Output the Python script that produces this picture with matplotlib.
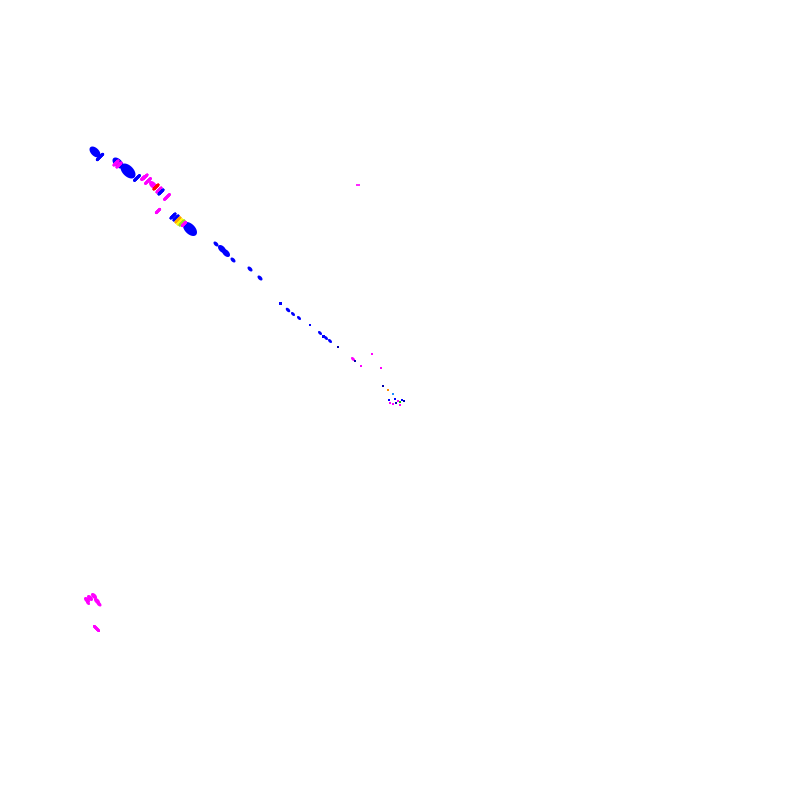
import numpy as np
import matplotlib
matplotlib.use("Agg")
import matplotlib.pyplot as plt
from matplotlib.path import Path

B, M, N = '#0000ff', '#ff00ff', '#0000aa'

# Blobs (elongated along the diagonal): x, y, size(px), colour
blob_x = [95, 118, 128, 190, 216, 222, 226, 233, 250, 260, 153, 288, 293, 299, 320, 326, 330,
          87, 90, 94, 97, 99, 88, 353]
blob_y = [152, 163, 171, 229, 244, 249, 253, 260, 269, 278, 185, 310, 314, 318, 333, 338, 341,
          600, 598, 596, 601, 604, 603, 359]
blob_s = [11, 11, 15, 14, 5, 8, 8, 5, 5, 5, 8, 4.5, 4, 4, 4, 4, 4,
          6, 6, 6, 6, 5, 4, 4]
blob_c = [B, B, B, B, B, B, B, B, B, B, M, B, B, B, B, B, B,
          M, M, M, M, M, M, M]

# Strokes (short "/" ticks): x, y, length(px), colour
stroke_x = [100, 137, 143, 116, 119, 145, 148, 156, 159, 161, 167, 158, 173, 176, 178, 180, 182, 184]
stroke_y = [157, 178, 178, 163, 165, 177, 181, 187, 190, 192, 197, 211, 216, 218, 220, 222, 223, 224]
stroke_l = [8, 7, 4, 6, 6, 6, 7, 6, 6, 6, 7, 5, 6, 6, 6, 6, 6, 5]
stroke_c = [B, B, M, M, M, M, M, '#ff0000', M, B, M, M, B, B,
            '#ffa500', '#ffff00', '#9acd32', M]

# Small dots: x, y, size(px), colour
dot_x = [280, 310, 323, 338, 355, 372, 361, 381, 383, 388, 393,
         395, 398, 400, 402, 390, 393, 396, 404, 400, 389]
dot_y = [303, 325, 336, 347, 361, 354, 366, 368, 386, 390, 394,
         399, 401, 402, 400, 403, 404, 403, 401, 405, 400]
dot_s = [3, 2.5, 3, 2, 2, 2, 2, 2.5, 1.5, 1.5, 1.5,
         2.5, 2, 2, 2, 2, 2, 2, 2, 1.5, 2]
dot_c = [B, B, B, N, N, M, M, M, N, '#ff8c00', '#1e90ff', B, M, '#00c000', B,
         M, M, N, N, M, B]

# Horizontal dash
dash_x = [358]
dash_y = [185]
dash_c = [M]

# Back-slash strokes (bottom-left)
bs_x = [96]
bs_y = [628]
bs_l = [6]
bs_c = [M]

fig = plt.figure(figsize=(8, 8), dpi=100)
ax = fig.add_axes([0, 0, 1, 1])
ax.set_xlim(0, 800)
ax.set_ylim(800, 0)
ax.axis('off')

# Ellipse marker elongated along "\" direction
t = np.linspace(0, 2 * np.pi, 40)
ex, ey = np.cos(t), 0.6 * np.sin(t)
ang = np.deg2rad(-45)
vx = ex * np.cos(ang) - ey * np.sin(ang)
vy = ex * np.sin(ang) + ey * np.cos(ang)
ell = Path(np.column_stack([vx, vy]), closed=True)

px2pt = 72 / 100
ax.scatter(blob_x, blob_y, s=[(v * px2pt) ** 2 for v in blob_s], c=blob_c,
           marker=ell, linewidths=0)
ax.scatter(stroke_x, stroke_y, s=[(v * px2pt) ** 2 for v in stroke_l],
           marker=(2, 2, -45), c=stroke_c, linewidths=2.0)
ax.scatter(bs_x, bs_y, s=[(v * px2pt) ** 2 for v in bs_l],
           marker=(2, 2, 45), c=bs_c, linewidths=2.0)
ax.scatter(dot_x, dot_y, s=[(v * px2pt) ** 2 for v in dot_s], c=dot_c,
           marker='s', linewidths=0)
ax.scatter(dash_x, dash_y, s=(4 * px2pt) ** 2, marker='_', c=dash_c, linewidths=1.2)

fig.savefig('out.png', dpi=100, facecolor='white')
